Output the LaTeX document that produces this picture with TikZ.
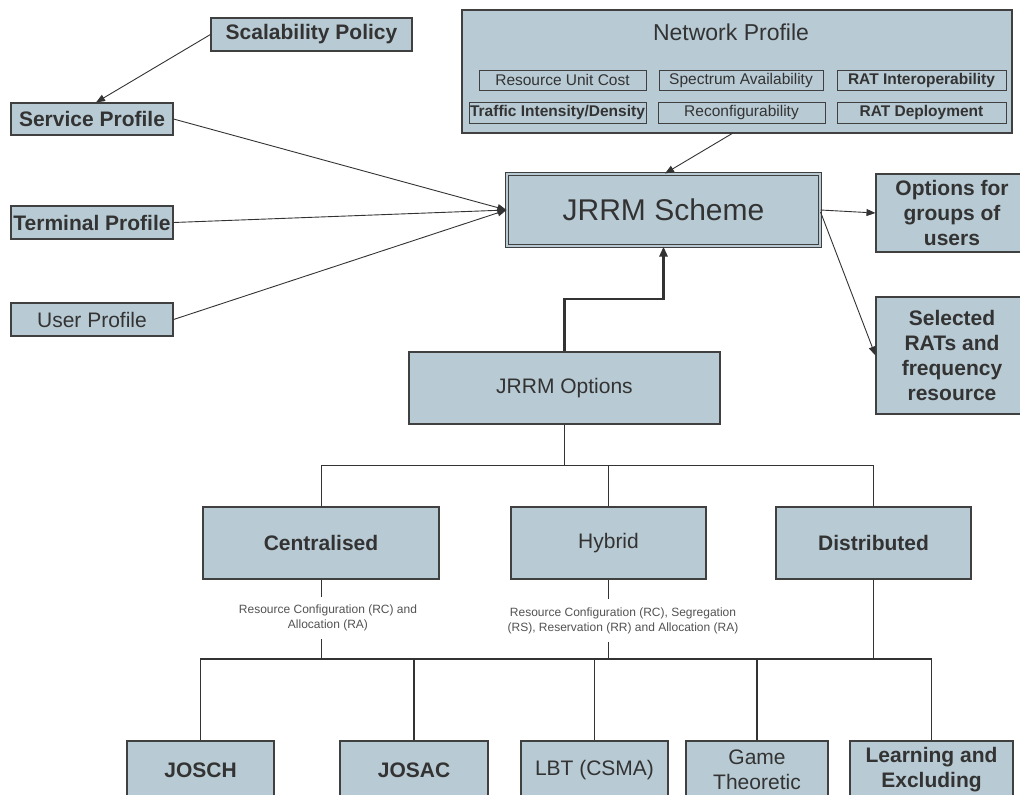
\documentclass[tikz,border=0pt]{standalone}
\usepackage{fontspec}
\setmainfont{Liberation Sans}
\usetikzlibrary{arrows.meta}
\definecolor{boxfill}{HTML}{B8CAD3}
\definecolor{boxline}{HTML}{404040}
\definecolor{txt}{HTML}{333333}
\tikzset{
  box/.style={draw=boxline, fill=boxfill, line width=1.1pt, inner sep=0pt, align=center, text=txt, font=\fontsize{21}{25}\selectfont},
  bbox/.style={box, font=\fontsize{21}{25}\selectfont\bfseries},
  sub/.style={draw=boxline, line width=0.9pt, inner sep=0pt, text=txt, font=\fontsize{15.5}{18}\selectfont},
  bsub/.style={sub, font=\fontsize{15.5}{18}\selectfont\bfseries},
  conn/.style={draw=txt, line width=0.9pt},
  arr/.style={conn, -{Triangle[length=9pt,width=7pt]}},
  lbl/.style={inner sep=0pt, align=center, text=txt!85, font=\fontsize{12}{15}\selectfont, minimum height=42pt},
}
\begin{document}
\begin{tikzpicture}[x=1pt,y=-1pt]
\useasboundingbox (0,0) rectangle (1020,795);
\clip (0,0) rectangle (1020,795);
% left profiles
\node[bbox, minimum width=201pt, minimum height=33pt] (scal) at (311.5,34.5) {Scalability Policy};
\node[bbox, minimum width=162pt, minimum height=32pt] (serv) at (92,119) {Service Profile};
\node[bbox, minimum width=162pt, minimum height=33pt] (term) at (92,222.5) {Terminal Profile};
\node[box, minimum width=162pt, minimum height=33pt] (user) at (92,319.5) {User Profile};
% network profile
\node[box, minimum width=550pt, minimum height=123pt] (net) at (737,71.5) {};
\node[inner sep=0pt, text=txt, font=\fontsize{23}{27}\selectfont] (nett) at (731,32) {Network Profile};
\node[sub, minimum width=167pt, minimum height=20pt] (ruc) at (562.5,80) {Resource Unit Cost};
\node[sub, minimum width=164pt, minimum height=20pt] (spec) at (741,80) {Spectrum Availability};
\node[bsub, minimum width=169pt, minimum height=20pt] (rati) at (921.5,80) {RAT Interoperability};
\node[bsub, minimum width=177pt, minimum height=21pt] (traf) at (557.5,112.5) {Traffic Intensity/Density};
\node[sub, minimum width=167pt, minimum height=21pt] (reco) at (741.5,112.5) {Reconfigurability};
\node[bsub, minimum width=169pt, minimum height=21pt] (ratd) at (921.5,112.5) {RAT Deployment};
% JRRM scheme
\node[box, double=boxfill, double distance=2.4pt, line width=1.1pt, minimum width=313pt, minimum height=72pt, font=\fontsize{30}{34}\selectfont] (jrrm) at (663.5,210) {JRRM Scheme};
\node[bbox, minimum width=152pt, minimum height=78pt] (opts) at (952,213) {Options for\\groups of\\users};
\node[bbox, minimum width=152pt, minimum height=117pt] (sel) at (952,355.5) {Selected\\RATs and\\frequency\\resource};
% JRRM options
\node[box, minimum width=311pt, minimum height=72pt] (jopt) at (564.5,388) {JRRM Options};
% middle level
\node[bbox, minimum width=236pt, minimum height=72pt] (cen) at (321,543) {Centralised};
\node[box, minimum width=195pt, minimum height=72pt] (hyb) at (608.5,543) {Hybrid};
\node[bbox, minimum width=195pt, minimum height=72pt] (dis) at (873.5,543) {Distributed};
% labels
\node[lbl] (lc) at (328,618) {Resource Configuration (RC) and\\Allocation (RA)};
\node[lbl] (lh) at (623,620.5) {Resource Configuration (RC), Segregation\\(RS), Reservation (RR) and Allocation (RA)};
% bottom level
\node[bbox, minimum width=147pt, minimum height=58pt] (josch) at (200.5,770) {JOSCH};
\node[bbox, minimum width=148pt, minimum height=58pt] (josac) at (414,770) {JOSAC};
\node[box, minimum width=147pt, minimum height=58pt] (lbt) at (594.5,770) {LBT (CSMA)};
\node[box, minimum width=142pt, minimum height=58pt] (game) at (757,770) {Game\\Theoretic};
\node[bbox, minimum width=163pt, minimum height=58pt] (learn) at (931.5,770) {Learning and\\Excluding};
% coordinates
\coordinate (bend) at (564.5,299);
\coordinate (busa) at (0,465);
\coordinate (busb) at (0,659);
\coordinate (nettail) at (733,133);
% arrows top
\draw[arr] (scal.west) -- ([xshift=4pt]serv.north);
\draw[arr] (serv.east) -- (jrrm.west);
\draw[arr] (term.east) -- (jrrm.west);
\draw[arr] (user.east) -- (jrrm.west);
\draw[arr] (nettail) -- ([xshift=1.5pt]jrrm.north);
\draw[arr] (jrrm.east) -- (opts.west);
\draw[arr] ([yshift=-2pt]jrrm.east) -- (sel.west);
\draw[conn, line width=2.6pt, -{Triangle[length=10pt,width=8pt]}] (jopt.north) -- (jopt.north|-bend) -| (jrrm.south);
% tree
\draw[conn] (jopt.south) -- (jopt.south|-busa);
\draw[conn] (cen.north) -- (cen.north|-busa) -- (dis.north|-busa) -- (dis.north);
\draw[conn] (hyb.north) -- (hyb.north|-busa);
\draw[conn] (cen.south) -- (cen.south|-lc.north);
\draw[conn] (cen.south|-lc.south) -- (cen.south|-busb);
\draw[conn] (hyb.south) -- (hyb.south|-lh.north);
\draw[conn] (hyb.south|-lh.south) -- (hyb.south|-busb);
\draw[conn, line width=1.4pt] (dis.south) -- (dis.south|-busb);
\draw[conn, line width=1.2pt] (josch.north) -- (josch.north|-busb) -- (learn.north|-busb) -- (learn.north);
\draw[conn, line width=1.2pt] (josac.north) -- (josac.north|-busb);
\draw[conn] (lbt.north) -- (lbt.north|-busb);
\draw[conn, line width=1.2pt] (game.north) -- (game.north|-busb);
\end{tikzpicture}
\end{document}
